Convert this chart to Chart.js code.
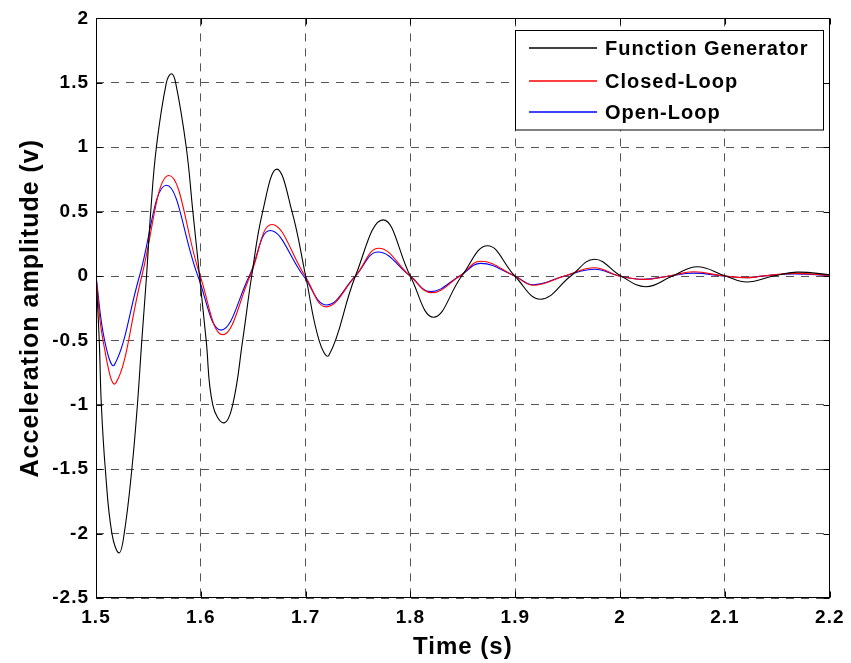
<!DOCTYPE html>
<html>
<head>
<meta charset="utf-8">
<title>Acceleration amplitude</title>
<script src="https://cdn.jsdelivr.net/npm/chart.js@4.4.1/dist/chart.umd.min.js"></script>
<style>
  html, body { margin: 0; padding: 0; background: #ffffff; }
  #wrap { width: 851px; height: 663px; }
</style>
</head>
<body>
<div id="wrap"><canvas id="chart" width="851" height="663"></canvas></div>
<script>
// Function generator signal: time (s) and amplitude (v)
const fgTime = [1.5, 1.5031, 1.5051, 1.5089, 1.5152, 1.5221, 1.5269, 1.5342, 1.5395, 1.5437,
  1.5482, 1.5522, 1.5576, 1.5671, 1.5719, 1.5760, 1.5861, 1.5924, 1.5988, 1.6051,
  1.6114, 1.6218, 1.6304, 1.6399, 1.6485, 1.6590, 1.6725, 1.6870, 1.7000, 1.7128,
  1.7222, 1.7475, 1.7738, 1.7998, 1.8220, 1.8489, 1.8735, 1.8995, 1.9240, 1.9530,
  1.9755, 2.0008, 2.0245, 2.0500, 2.0736, 2.1005, 2.1210, 2.1460, 2.1686, 2.2];
const fgAmp = [0, -0.5, -1.0, -1.5, -2.0, -2.15, -2.0, -1.5, -1.0, -0.5,
  0, 0.5, 1.0, 1.5, 1.57, 1.5, 1.0, 0.5, 0, -0.5,
  -1.0, -1.14, -1.0, -0.5, 0, 0.5, 0.83, 0.5, 0, -0.5,
  -0.615, 0, 0.436, 0, -0.32, 0, 0.235, 0, -0.18, 0,
  0.13, 0, -0.083, 0, 0.072, 0, -0.047, 0, 0.03, 0.01];

// Closed-loop response
const clTime = [1.5, 1.5067, 1.5190, 1.5437, 1.5696, 1.5994, 1.6209,
  1.6470, 1.6678, 1.6995, 1.7195, 1.7475, 1.7697, 1.7997, 1.8203, 1.8470, 1.8670,
  1.8995, 1.9170, 1.9470, 1.9755, 1.9990, 2.0225, 2.0467, 2.0700, 2.0988, 2.1210,
  2.1360, 2.1650, 2.2];
const clAmp = [0, -0.5, -0.83, 0, 0.78, 0, -0.456,
  0, 0.40, 0, -0.24, 0, 0.215, 0, -0.129, 0, 0.114,
  0, -0.072, 0, 0.064, 0, -0.026, 0, 0.033, 0, -0.013,
  0, 0.02, 0.005];

// Open-loop response
const olTime = [1.5, 1.5082, 1.5177, 1.5415, 1.5671, 1.5972, 1.6193,
  1.6462, 1.6662, 1.6980, 1.7200, 1.7475, 1.7690, 1.7997, 1.8190, 1.8470, 1.8670,
  1.8995, 1.9170, 1.9470, 1.9755, 1.9990, 2.0225, 2.0467, 2.0700, 2.0988, 2.1210,
  2.1360, 2.1650, 2.2];
const olAmp = [0, -0.5, -0.688, 0, 0.704, 0, -0.42,
  0, 0.353, 0, -0.225, 0, 0.186, 0, -0.121, 0, 0.098,
  0, -0.068, 0, 0.052, 0, -0.026, 0, 0.022, 0, -0.013,
  0, 0.016, 0.005];

const seriesNames = ['Function Generator', 'Closed-Loop', 'Open-Loop'];

const xTickValues = [1.5, 1.6, 1.7, 1.8, 1.9, 2.0, 2.1, 2.2];
const xTickLabels = ['1.5', '1.6', '1.7', '1.8', '1.9', '2', '2.1', '2.2'];
const yTickValues = [-2.5, -2, -1.5, -1, -0.5, 0, 0.5, 1, 1.5, 2];
const yTickLabels = ['-2.5', '-2', '-1.5', '-1', '-0.5', '0', '0.5', '1', '1.5', '2'];

const FONT = '"Liberation Sans", Arial, Helvetica, sans-serif';
const LINE_COLORS = ['#000000', '#ff0000', '#0000ff'];

function toPoints(xs, ys) {
  return xs.map((x, i) => ({ x: x, y: ys[i] }));
}

// Slightly wider letter spacing for all text drawn on the canvas
const letterSpacingPlugin = {
  id: 'letterSpacing',
  beforeDraw(chart) {
    chart.ctx.letterSpacing = '1px';
  }
};

// Solid axes box with inward tick marks on all four sides
const axesBoxPlugin = {
  id: 'axesBox',
  afterDatasetsDraw(chart) {
    const { ctx, chartArea: a, scales } = chart;
    const L = Math.round(a.left) + 0.5, R = Math.round(a.right) - 0.5;
    const T = Math.round(a.top) + 0.5, B = Math.round(a.bottom) - 0.5;
    const tick = 6;
    ctx.save();
    ctx.strokeStyle = '#000';
    ctx.lineWidth = 1;
    ctx.setLineDash([]);
    ctx.strokeRect(L, T, R - L, B - T);
    ctx.beginPath();
    xTickValues.forEach(v => {
      const px = Math.round(scales.x.getPixelForValue(v)) + 0.5;
      ctx.moveTo(px, B); ctx.lineTo(px, B - tick);
      ctx.moveTo(px, T); ctx.lineTo(px, T + tick);
    });
    yTickValues.forEach(v => {
      const py = Math.round(scales.y.getPixelForValue(v)) + 0.5;
      ctx.moveTo(L, py); ctx.lineTo(L + tick, py);
      ctx.moveTo(R, py); ctx.lineTo(R - tick, py);
    });
    ctx.stroke();
    ctx.restore();
  }
};

// Legend box in the upper right corner of the plot
const insetLegendPlugin = {
  id: 'insetLegend',
  afterDraw(chart) {
    const { ctx } = chart;
    const box = { x: 515.5, y: 30.5, w: 308, h: 99.5 };
    const rowY = [48, 81, 112];
    ctx.save();
    ctx.setLineDash([]);
    ctx.fillStyle = '#fff';
    ctx.fillRect(box.x, box.y, box.w, box.h);
    ctx.strokeStyle = '#000';
    ctx.lineWidth = 1;
    ctx.strokeRect(box.x, box.y, box.w, box.h);
    ctx.font = 'bold 20px ' + FONT;
    ctx.letterSpacing = '1px';
    ctx.textBaseline = 'middle';
    ctx.textAlign = 'left';
    chart.data.datasets.forEach((ds, i) => {
      ctx.strokeStyle = LINE_COLORS[i];
      ctx.lineWidth = 1.6;
      ctx.beginPath();
      ctx.moveTo(529, rowY[i]);
      ctx.lineTo(597, rowY[i]);
      ctx.stroke();
      ctx.fillStyle = '#000';
      ctx.fillText(ds.label, 605, rowY[i] + 1);
    });
    ctx.restore();
  }
};

new Chart(document.getElementById('chart'), {
  type: 'line',
  data: {
    datasets: [
      { label: seriesNames[0], data: toPoints(fgTime, fgAmp), borderColor: LINE_COLORS[0], borderWidth: 1.1, tension: 0.42 },
      { label: seriesNames[1], data: toPoints(clTime, clAmp), borderColor: LINE_COLORS[1], borderWidth: 1.1, tension: 0.42 },
      { label: seriesNames[2], data: toPoints(olTime, olAmp), borderColor: LINE_COLORS[2], borderWidth: 1.1, tension: 0.42 }
    ]
  },
  options: {
    responsive: false,
    animation: false,
    devicePixelRatio: 1,
    elements: { point: { radius: 0 } },
    layout: { padding: { top: 16, right: 18, left: 0, bottom: 0 } },
    plugins: {
      legend: { display: false },
      tooltip: { enabled: false }
    },
    scales: {
      x: {
        type: 'linear',
        min: 1.5,
        max: 2.2,
        afterBuildTicks: s => { s.ticks = xTickValues.map(v => ({ value: v })); },
        afterFit: s => { s.height = 65; },
        ticks: {
          callback: (v, i) => xTickLabels[i],
          color: '#000',
          padding: 8,
          maxRotation: 0,
          autoSkip: false,
          font: { family: FONT, size: 19, weight: 'bold' }
        },
        grid: { color: '#555', lineWidth: 1, drawTicks: false },
        border: { display: false, dash: [8, 7] },
        title: {
          display: true,
          text: 'Time (s)',
          color: '#000',
          font: { family: FONT, size: 24, weight: 'bold' },
          padding: { top: 0, bottom: 1 }
        }
      },
      y: {
        type: 'linear',
        min: -2.5,
        max: 2,
        afterBuildTicks: s => { s.ticks = yTickValues.map(v => ({ value: v })); },
        afterFit: s => { s.width = 96; },
        ticks: {
          callback: (v, i) => yTickLabels[i],
          color: '#000',
          padding: 7,
          autoSkip: false,
          font: { family: FONT, size: 19, weight: 'bold' }
        },
        grid: { color: '#555', lineWidth: 1, drawTicks: false },
        border: { display: false, dash: [8, 7] },
        title: {
          display: true,
          text: 'Acceleration amplitude (v)',
          color: '#000',
          font: { family: FONT, size: 25, weight: 'bold' },
          padding: { top: 16, bottom: 0 }
        }
      }
    }
  },
  plugins: [letterSpacingPlugin, axesBoxPlugin, insetLegendPlugin]
});
</script>
</body>
</html>
